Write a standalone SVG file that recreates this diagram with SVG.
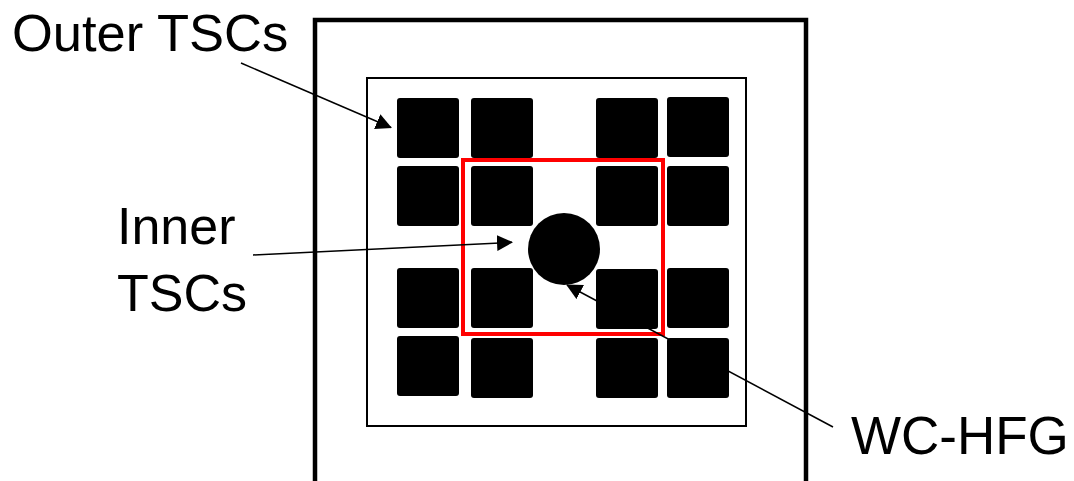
<svg xmlns="http://www.w3.org/2000/svg" width="1074" height="481" viewBox="0 0 1074 481">
<style>
.lbl{font-family:"Liberation Sans",Arial,sans-serif;fill:#000}
.tsc{fill:#000}
.conn{stroke:#000;stroke-width:1.5;fill:none}
</style>
<defs>
<marker id="ah" markerUnits="userSpaceOnUse" markerWidth="16" markerHeight="16" refX="15" refY="8" orient="auto">
<path d="M0,0 L16,8 L0,16 Z" fill="#000"/>
</marker>
</defs>
<rect width="1074" height="481" fill="#fff"/>
<g id="frame">
<rect x="315" y="20" width="491" height="480" fill="none" stroke="#000" stroke-width="4.5"/>
</g>
<g id="chamber">
<rect x="367" y="78" width="379" height="348" fill="none" stroke="#000" stroke-width="2"/>
</g>
<g id="outer-tscs">
<rect class="tsc" x="397" y="98" width="62" height="60" rx="3"/>
<rect class="tsc" x="471" y="98" width="62" height="60" rx="3"/>
<rect class="tsc" x="596" y="98" width="62" height="60" rx="3"/>
<rect class="tsc" x="667" y="97" width="62" height="60" rx="3"/>
<rect class="tsc" x="397" y="166" width="62" height="60" rx="3"/>
<rect class="tsc" x="667" y="166" width="62" height="60" rx="3"/>
<rect class="tsc" x="397" y="268" width="62" height="60" rx="3"/>
<rect class="tsc" x="667" y="268" width="62" height="60" rx="3"/>
<rect class="tsc" x="397" y="336" width="62" height="60" rx="3"/>
<rect class="tsc" x="471" y="338" width="62" height="60" rx="3"/>
<rect class="tsc" x="596" y="338" width="62" height="60" rx="3"/>
<rect class="tsc" x="667" y="338" width="62" height="60" rx="3"/>
</g>
<g id="inner-tscs">
<rect class="tsc" x="471" y="166" width="62" height="60" rx="3"/>
<rect class="tsc" x="596" y="166" width="62" height="60" rx="3"/>
<rect class="tsc" x="471" y="268" width="62" height="60" rx="3"/>
<rect class="tsc" x="596" y="269" width="62" height="60" rx="3"/>
</g>
<g id="inner-region">
<rect x="463" y="160" width="200" height="174" fill="none" stroke="#f00" stroke-width="4"/>
</g>
<g id="wc-hfg">
<circle cx="564" cy="249" r="36" fill="#000"/>
</g>
<g id="connectors">
<line class="conn" x1="241" y1="63" x2="391" y2="127.5" marker-end="url(#ah)"/>
<line class="conn" x1="253" y1="255" x2="512" y2="242.3" marker-end="url(#ah)"/>
<line class="conn" x1="833" y1="427" x2="567" y2="285" marker-end="url(#ah)"/>
</g>
<g id="labels">
<text class="lbl" x="12" y="51" font-size="52.5">Outer TSCs</text>
<text class="lbl" x="117" y="244" font-size="52">Inner</text>
<text class="lbl" x="117" y="311" font-size="52">TSCs</text>
<text class="lbl" x="851" y="454" font-size="53">WC-HFG</text>
</g>
</svg>
